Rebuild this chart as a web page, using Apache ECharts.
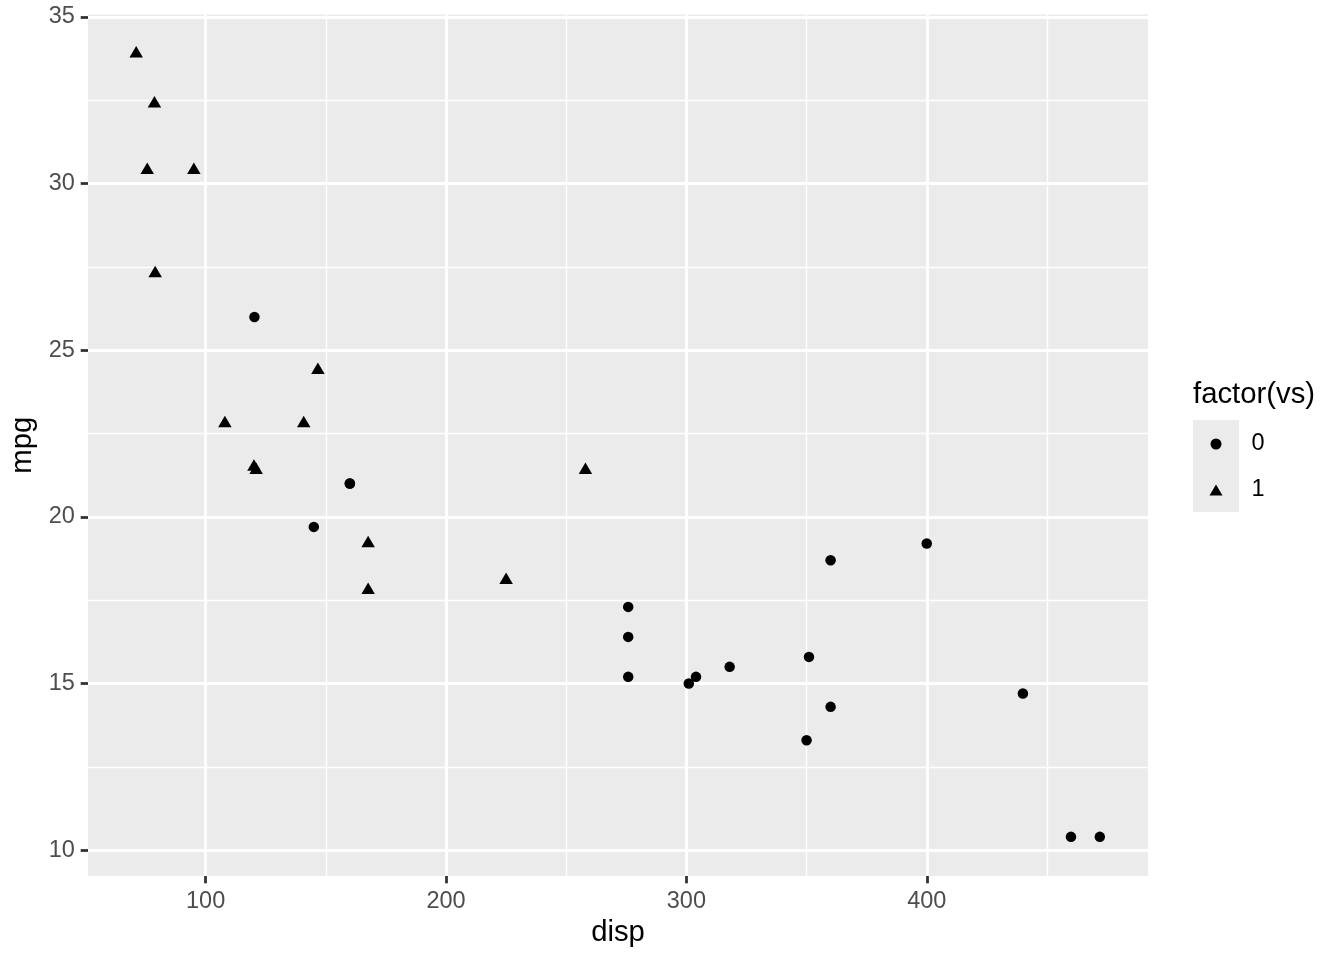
<!DOCTYPE html>
<html>
<head>
<meta charset="utf-8">
<script src="https://cdn.jsdelivr.net/npm/echarts@6/dist/echarts.min.js"></script>
<style>html,body{margin:0;padding:0;background:#fff}#c{width:1344px;height:960px}</style>
</head>
<body>
<div id="c"></div>
<script>
// mtcars: disp, mpg, vs
const disp = [160,160,108,258,360,225,360,146.7,140.8,167.6,167.6,275.8,275.8,275.8,472,460,440,78.7,75.7,71.1,120.1,318,304,350,400,79,120.3,95.1,351,145,301,121];
const mpg  = [21,21,22.8,21.4,18.7,18.1,14.3,24.4,22.8,19.2,17.8,16.4,17.3,15.2,10.4,10.4,14.7,32.4,30.4,33.9,21.5,15.5,15.2,13.3,19.2,27.3,26,30.4,15.8,19.7,15,21.4];
const vs   = [0,0,1,1,0,1,0,1,1,1,1,0,0,0,0,0,0,1,1,1,1,0,0,0,0,1,0,1,0,0,0,1];
const groups = ['0', '1'];
const xMajor = [100, 200, 300, 400];
const xMinor = [150, 250, 350, 450];
const yMajor = [10, 15, 20, 25, 30, 35];
const yMinor = [12.5, 17.5, 22.5, 27.5, 32.5];

function expand(arr) {
  const lo = Math.min(...arr), hi = Math.max(...arr), s = hi - lo;
  return [lo - 0.05 * s, hi + 0.05 * s];
}
const xr = expand(disp), yr = expand(mpg);

const FONT = '"Liberation Sans", Arial, Helvetica, sans-serif';
const seriesData = groups.map(g => {
  const d = [];
  for (let i = 0; i < disp.length; i++) if (String(vs[i]) === g) d.push([disp[i], mpg[i]]);
  return d;
});

const majorLine = {show: true, lineStyle: {color: '#FFFFFF', width: 2.8}};
const minorLine = {show: true, lineStyle: {color: '#FFFFFF', width: 1.4}};
const tickStyle = {show: true, length: 7.3, lineStyle: {color: '#333333', width: 2.8}};

const chart = echarts.init(document.getElementById('c'), null, {renderer: 'canvas'});
chart.setOption({
  animation: false,
  backgroundColor: '#FFFFFF',
  grid: {left: 88, right: 196, top: 14.5, bottom: 84, show: true, backgroundColor: '#EBEBEB', borderWidth: 0, containLabel: false},
  xAxis: [{
    type: 'value', min: xr[0], max: xr[1], position: 'bottom',
    name: 'disp', nameLocation: 'middle', nameGap: 37,
    nameTextStyle: {fontFamily: FONT, fontSize: 29.3, color: '#000000'},
    axisLine: {show: false},
    axisTick: Object.assign({customValues: xMajor}, tickStyle),
    axisLabel: {customValues: xMajor, margin: 13.2, fontFamily: FONT, fontSize: 23.5, color: '#4D4D4D'},
    splitLine: majorLine
  }, {
    type: 'value', min: xr[0], max: xr[1], position: 'top',
    axisLine: {show: false},
    axisTick: {show: false, customValues: xMinor},
    axisLabel: {show: false, customValues: xMinor},
    splitLine: minorLine
  }],
  yAxis: [{
    type: 'value', min: yr[0], max: yr[1], position: 'left',
    name: 'mpg', nameLocation: 'middle', nameGap: 48, nameRotate: 90,
    nameTextStyle: {fontFamily: FONT, fontSize: 29.3, color: '#000000'},
    axisLine: {show: false},
    axisTick: Object.assign({customValues: yMajor}, tickStyle),
    axisLabel: {customValues: yMajor, margin: 13.2, fontFamily: FONT, fontSize: 23.5, color: '#4D4D4D'},
    splitLine: majorLine
  }, {
    type: 'value', min: yr[0], max: yr[1], position: 'right',
    axisLine: {show: false},
    axisTick: {show: false, customValues: yMinor},
    axisLabel: {show: false, customValues: yMinor},
    splitLine: minorLine
  }],
  legend: {
    orient: 'vertical', left: 1209.5, top: 421, padding: 0, itemGap: 0,
    itemWidth: 13, itemHeight: 11,
    data: [{name: '0', icon: 'circle'}, {name: '1', icon: 'triangle'}],
    itemStyle: {opacity: 1},
    textStyle: {fontFamily: FONT, fontSize: 23.5, color: '#000000', lineHeight: 46, padding: [0, 0, 0, 24]}
  },
  graphic: [
    {type: 'rect', left: 1193, top: 420, z: -1, shape: {width: 46, height: 92}, style: {fill: '#EBEBEB'}},
    {type: 'text', left: 1193, top: 380, style: {text: 'factor(vs)', font: '29.3px ' + FONT, fill: '#000000'}}
  ],
  series: [{
    name: '0', type: 'scatter', xAxisIndex: 0, yAxisIndex: 0,
    symbol: 'circle', symbolSize: 10.5,
    itemStyle: {color: '#000000', opacity: 1},
    data: seriesData[0]
  }, {
    name: '1', type: 'scatter', xAxisIndex: 0, yAxisIndex: 0,
    symbol: 'triangle', symbolSize: [13.5, 11.5], symbolOffset: [0, -2],
    itemStyle: {color: '#000000', opacity: 1},
    data: seriesData[1]
  }]
});
</script>
</body>
</html>
